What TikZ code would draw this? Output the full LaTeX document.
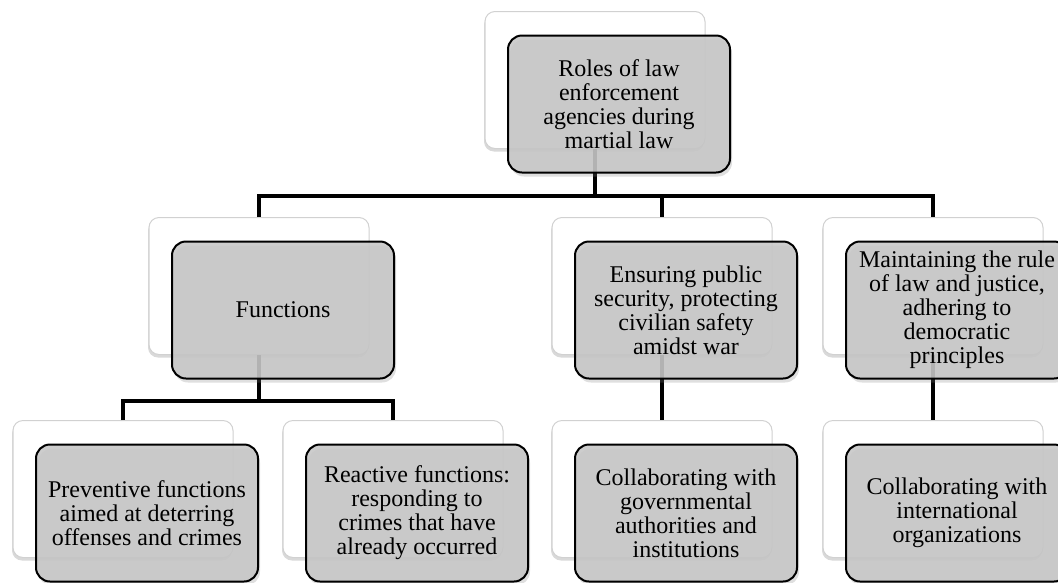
\documentclass[tikz,border=0pt]{standalone}
\usepackage{fontspec}
\setmainfont{Liberation Serif}
\usetikzlibrary{shadows}

\tikzset{
	backbox/.style={rectangle, rounded corners=10pt, fill=white, draw=black!18,
		line width=1pt, minimum width=220pt, minimum height=137pt,
		drop shadow={shadow xshift=-1pt, shadow yshift=-3pt, opacity=0.3}},
	frontbox/.style={rectangle, rounded corners=14pt, draw=black, line width=2pt,
		fill=black!22, fill opacity=0.88, text opacity=1, draw opacity=1,
		minimum width=222pt, minimum height=137pt, align=center, inner sep=2pt,
		font=\fontsize{24}{24}\selectfont,
		drop shadow={shadow xshift=2pt, shadow yshift=-4pt, opacity=0.25}},
	link/.style={line width=4.5pt},
}

\begin{document}
\begin{tikzpicture}[x=1pt, y=-1pt]
	\useasboundingbox (0,0) rectangle (1058,582);

	% back boxes
	\node[backbox] (rootB) at (595,80) {};
	\node[backbox] (funcB) at (259,286) {};
	\node[backbox] (secB) at (662,286) {};
	\node[backbox] (lawB) at (933,286) {};
	\node[backbox] (prevB) at (123,489) {};
	\node[backbox] (reacB) at (393,489) {};
	\node[backbox] (govB) at (662,489) {};
	\node[backbox] (intlB) at (933,489) {};

	% connectors
	\coordinate (top) at (595,196);
	\coordinate (fork) at (259,401);
	\draw[link] (rootB.south) -- (top);
	\draw[link] (funcB.north) |- (top) -| (lawB.north);
	\draw[link] (top) -| (secB.north);
	\draw[link] (funcB.south) -- (fork);
	\draw[link] (prevB.north) |- (fork) -| (reacB.north);
	\draw[link] (secB.south) -- (govB.north);
	\draw[link] (lawB.south) -- (intlB.north);

	% front boxes
	\node[frontbox] (root) at (619,104) {Roles of law\\enforcement\\agencies during\\martial law};
	\node[frontbox] (func) at (283,310) {Functions};
	\node[frontbox] (sec) at (686,310) {Ensuring public\\security, protecting\\civilian safety\\amidst war};
	\node[frontbox] (law) at (957,310) {Maintaining the rule\\of law and justice,\\adhering to\\democratic\\principles};
	\node[frontbox] (prev) at (147,513) {Preventive functions\\aimed at deterring\\offenses and crimes};
	\node[frontbox] (reac) at (417,513) {Reactive functions:\\responding to\\crimes that have\\already occurred};
	\node[frontbox] (gov) at (686,513) {Collaborating with\\governmental\\authorities and\\institutions};
	\node[frontbox] (intl) at (957,513) {Collaborating with\\international\\organizations};

\end{tikzpicture}
\end{document}
